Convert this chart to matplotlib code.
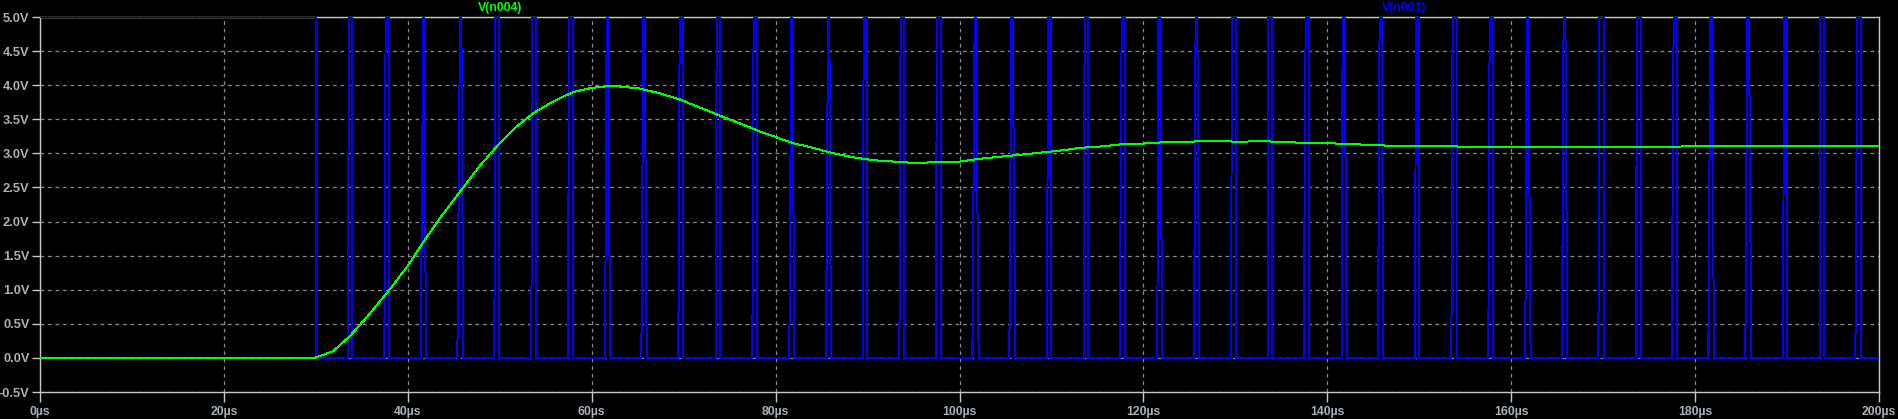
import matplotlib
matplotlib.use("Agg")
import matplotlib.pyplot as plt

# ---------------- data ----------------
# V(n004): filtered output (time in µs, volts)
green_t = [0, 29.9, 31.9, 33.7, 35.5, 37.9, 39.95, 41.9, 43.5, 45.7, 47.85, 50.0,
           51.8, 53.65, 55.8, 58.0, 60.0, 62.0, 63.1, 65.25, 67.4, 69.6, 71.8, 74.0,
           76.1, 78.3, 80.0, 81.9, 84.1, 86.3, 88.5, 90.6, 92.8, 95.0, 97.5, 100.05,
           102.2, 104.4, 106.6, 108.75, 110.9, 113.1, 115.3, 117.45, 119.6, 121.8,
           124.0, 126.2, 128.3, 130.5, 132.7, 136.3, 139.9, 143.6, 147.2, 150.8,
           154.4, 158.1, 161.7, 167.1, 170.9, 174.5, 178.1, 183.6, 189.0, 194.45, 200.0]
green_v = [0.0, 0.0, 0.10, 0.32, 0.59, 0.98, 1.34, 1.74, 2.05, 2.44, 2.82, 3.15,
           3.39, 3.59, 3.76, 3.90, 3.96, 3.99, 3.98, 3.95, 3.88, 3.79, 3.67, 3.55,
           3.44, 3.32, 3.24, 3.15, 3.08, 3.00, 2.94, 2.90, 2.88, 2.86, 2.87, 2.88,
           2.92, 2.95, 2.98, 3.01, 3.04, 3.08, 3.10, 3.13, 3.14, 3.16,
           3.16, 3.18, 3.18, 3.17, 3.18, 3.16, 3.15, 3.13, 3.11, 3.11,
           3.10, 3.10, 3.10, 3.10, 3.10, 3.10, 3.10, 3.11, 3.11, 3.11, 3.11]

# V(n001): PWM drive. High until 30 µs, then short pulses (µs)
v_high = 5.0
v_low = 0.0
initial_high_end = 30.0
pulse_rise_start = [33.46, 37.45, 41.40, 45.39, 49.41, 53.43, 57.39, 61.45, 65.40, 69.42,
                    73.48, 77.47, 81.49, 85.48, 89.47, 93.46, 97.41, 101.40, 105.42, 109.55,
                    113.50, 117.42, 121.51, 125.50, 129.56, 133.55, 137.43, 141.56, 145.51, 149.57,
                    153.49, 157.51, 161.53, 165.52, 169.48, 173.61, 177.45, 181.44, 185.46, 189.60,
                    193.58, 197.43]
pulse_rise_end = [33.61, 37.59, 41.69, 45.68, 49.52, 53.54, 57.57, 61.63, 65.62, 69.57,
                  73.59, 77.61, 81.71, 85.70, 89.58, 93.60, 97.55, 101.65, 105.64, 109.59,
                  113.61, 117.64, 121.62, 125.68, 129.60, 133.59, 137.65, 141.67, 145.69, 149.61,
                  153.63, 157.66, 161.68, 165.70, 169.59, 173.64, 177.67, 181.66, 185.68, 189.63,
                  193.62, 197.64]
pulse_fall_start = [33.97, 37.99, 41.76, 45.82, 49.92, 53.98, 58.00, 61.81, 65.76, 69.97,
                    73.99, 78.01, 81.82, 85.84, 89.98, 94.00, 97.95, 101.79, 105.78, 109.99,
                    114.01, 118.03, 121.80, 125.86, 130.03, 134.02, 138.05, 141.89, 145.91, 150.01,
                    154.07, 158.06, 161.86, 165.89, 170.06, 174.08, 178.07, 181.84, 185.86, 190.03,
                    194.06, 198.08]
pulse_fall_end = [33.98, 38.00, 41.98, 46.04, 49.93, 53.99, 58.01, 61.99, 65.98, 69.98,
                  74.00, 78.02, 82.04, 86.02, 89.99, 94.01, 98.00, 102.08, 106.07, 110.00,
                  114.02, 118.04, 122.06, 126.08, 130.04, 134.03, 138.06, 142.11, 146.09, 150.02,
                  154.08, 158.07, 162.11, 166.11, 170.07, 174.09, 178.08, 182.05, 186.11, 190.04,
                  194.07, 198.09]
t_end = 200.0

x_ticks = [0, 20, 40, 60, 80, 100, 120, 140, 160, 180, 200]
x_tick_labels = ["0µs", "20µs", "40µs", "60µs", "80µs", "100µs", "120µs", "140µs",
                 "160µs", "180µs", "200µs"]
y_ticks = [-0.5, 0.0, 0.5, 1.0, 1.5, 2.0, 2.5, 3.0, 3.5, 4.0, 4.5, 5.0]
y_tick_labels = ["-0.5V", "0.0V", "0.5V", "1.0V", "1.5V", "2.0V", "2.5V", "3.0V",
                 "3.5V", "4.0V", "4.5V", "5.0V"]
trace_names = ["V(n004)", "V(n001)"]

# ---------------- build blue polyline ----------------
blue_t = [0.0, initial_high_end, initial_high_end]
blue_v = [v_high, v_high, v_low]
for rs, re_, fs, fe in zip(pulse_rise_start, pulse_rise_end, pulse_fall_start, pulse_fall_end):
    blue_t += [rs, re_, fs, fe]
    blue_v += [v_low, v_high, v_high, v_low]
blue_t.append(t_end)
blue_v.append(v_low)

# ---------------- figure ----------------
W, H = 1898, 419
fig = plt.figure(figsize=(W / 100, H / 100), dpi=100, facecolor="black")
ax = fig.add_axes([40 / W, 1 - 392 / H, (1879 - 40) / W, (392 - 17) / H])
ax.set_facecolor("black")

ax.plot(blue_t, blue_v, color="#0000ff", lw=0.72, zorder=3, antialiased=False)
ax.plot(green_t, green_v, color="#00ff00", lw=0.72, zorder=4, antialiased=False)

ax.set_xlim(0, 200)
ax.set_ylim(-0.5, 5.0)

grid_col = "#8a8a8a"
ax.set_xticks(x_ticks)
ax.set_xticklabels(x_tick_labels)
ax.set_yticks(y_ticks)
ax.set_yticklabels(y_tick_labels)
ax.grid(True, color=grid_col, linestyle=(0, (3, 3)), lw=0.9, zorder=1)

spine_col = "#c8c8c8"
for s in ax.spines.values():
    s.set_color(spine_col)
    s.set_linewidth(1.0)

lab_col = "#a8b0b8"
ax.tick_params(axis="both", colors=spine_col, labelcolor=lab_col, direction="out",
               width=1.0)
ax.tick_params(axis="x", length=7, pad=3)
ax.tick_params(axis="y", length=6, pad=1.5)
for lbl in ax.get_xticklabels():
    lbl.set_fontfamily("Liberation Sans")
    lbl.set_fontweight("bold")
    lbl.set_fontsize(8.8)
for lbl in ax.get_yticklabels():
    lbl.set_fontfamily("Liberation Sans")
    lbl.set_fontweight("bold")
    lbl.set_fontsize(9.3)

fig.text(500 / W, 1 - 7.5 / H, trace_names[0], color="#00ff00", fontsize=8.8,
         fontweight="bold", family="Liberation Sans", ha="center", va="center")
fig.text(1404 / W, 1 - 7.5 / H, trace_names[1], color="#0000ff", fontsize=8.8,
         fontweight="bold", family="Liberation Sans", ha="center", va="center")

fig.savefig("out.png", dpi=100, facecolor="black")
